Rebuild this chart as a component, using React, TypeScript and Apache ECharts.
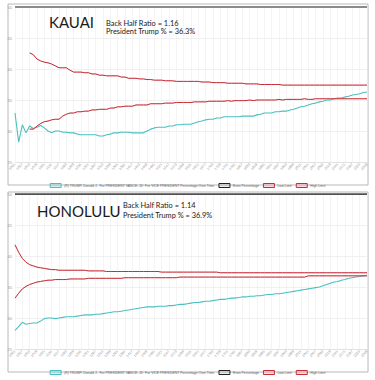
import React, { useEffect, useRef } from "react";
import * as echarts from "echarts";

const CATEGORIES: string[] = Array.from({ length: 97 }, (_, i) => String(1001 + i * 13));
const EVEN = 50;

const TRUMP_NAME = "(R) TRUMP, Donald J.  For PRESIDENT VANCE, JD  For VICE PRESIDENT Percentage Over Time";
const EVEN_NAME = "Even Percentage";
const LOW_NAME = "Low Limit";
const HIGH_NAME = "High Limit";

const kauaiTrump = [
  32.9, 28.2, 31.0, 29.7, 30.8, 30.4, 30.6, 30.9, 30.5, 30.0,
  29.7, 30.0, 30.0, 29.8, 29.8, 29.7, 29.7, 29.5, 29.4, 29.4,
  29.4, 29.4, 29.4, 29.2, 29.2, 29.4, 29.5, 29.7, 29.7, 29.8,
  29.8, 29.8, 29.7, 29.7, 29.7, 29.7, 30.0, 30.3, 30.5, 30.6,
  30.6, 30.6, 30.8, 30.8, 31.0, 31.0, 31.1, 31.1, 31.1, 31.3,
  31.5, 31.6, 31.8, 31.9, 31.9, 32.1, 32.1, 32.3, 32.3, 32.3,
  32.3, 32.3, 32.4, 32.4, 32.4, 32.4, 32.6, 32.7, 32.9, 32.9,
  32.9, 33.1, 33.1, 33.2, 33.2, 33.4, 33.5, 33.7, 33.9, 34.0,
  34.2, 34.4, 34.5, 34.7, 34.8, 35.0, 35.0, 35.2, 35.3, 35.3,
  35.5, 35.6, 35.8, 35.9, 36.0, 36.2, 36.3,
];
const kauaiLow = [
  null, null, null, null, 30.3, 30.3, 30.8, 31.2, 31.5, 31.6,
  31.8, 31.9, 31.9, 32.4, 32.7, 32.9, 32.9, 33.1, 33.1, 33.2,
  33.2, 33.4, 33.4, 33.5, 33.5, 33.5, 33.7, 33.7, 33.9, 33.9,
  34.0, 34.0, 34.0, 34.2, 34.2, 34.2, 34.2, 34.4, 34.4, 34.4,
  34.4, 34.5, 34.5, 34.5, 34.6, 34.6, 34.6, 34.6, 34.6, 34.7,
  34.7, 34.7, 34.7, 34.8, 34.8, 34.8, 34.8, 34.8, 34.9, 34.8,
  34.9, 34.9, 34.9, 34.9, 35.0, 34.9, 35.0, 35.0, 35.0, 35.0,
  35.0, 35.0, 35.1, 35.0, 35.1, 35.1, 35.1, 35.1, 35.1, 35.2,
  35.1, 35.1, 35.2, 35.2, 35.2, 35.2, 35.2, 35.2, 35.2, 35.2,
  35.2, 35.2, 35.2, 35.2, 35.2, 35.2, 35.2,
];
const kauaiHigh = [
  null, null, null, null, 42.6, 42.3, 41.6, 41.3, 41.1, 41.0,
  40.8, 40.5, 40.2, 40.2, 40.2, 39.8, 39.5, 39.5, 39.5, 39.4,
  39.4, 39.2, 39.2, 39.0, 39.0, 38.9, 38.9, 38.9, 38.9, 38.7,
  38.7, 38.5, 38.5, 38.5, 38.4, 38.4, 38.3, 38.3, 38.2, 38.2,
  38.2, 38.1, 38.1, 38.1, 38.0, 38.0, 38.0, 38.0, 38.0, 38.0,
  38.0, 37.9, 37.9, 37.9, 37.8, 37.8, 37.8, 37.8, 37.7, 37.7,
  37.7, 37.7, 37.7, 37.6, 37.6, 37.6, 37.6, 37.5, 37.5, 37.5,
  37.5, 37.5, 37.5, 37.4, 37.4, 37.4, 37.4, 37.4, 37.4, 37.4,
  37.4, 37.4, 37.4, 37.4, 37.4, 37.4, 37.4, 37.4, 37.4, 37.4,
  37.4, 37.4, 37.4, 37.4, 37.4, 37.4, 37.4,
];

const honoluluTrump = [
  28.0, 28.6, 29.3, 29.0, 29.1, 29.2, 29.2, 29.5, 29.9, 30.0,
  30.0, 29.9, 30.0, 30.1, 30.2, 30.2, 30.2, 30.3, 30.4, 30.5,
  30.5, 30.5, 30.6, 30.6, 30.7, 30.8, 30.9, 31.0, 31.0, 31.1,
  31.2, 31.3, 31.4, 31.5, 31.6, 31.7, 31.8, 31.8, 31.8, 31.9,
  31.9, 31.9, 32.0, 32.0, 32.1, 32.2, 32.2, 32.3, 32.4, 32.5,
  32.5, 32.6, 32.7, 32.7, 32.8, 32.9, 33.0, 33.0, 33.1, 33.2,
  33.2, 33.3, 33.4, 33.4, 33.5, 33.5, 33.6, 33.6, 33.7, 33.8,
  33.8, 33.9, 33.9, 34.0, 34.1, 34.2, 34.3, 34.4, 34.5, 34.6,
  34.7, 34.8, 34.9, 35.0, 35.2, 35.4, 35.6, 35.8, 35.9, 36.1,
  36.2, 36.4, 36.5, 36.6, 36.7, 36.8, 36.9,
];
const honoluluLow = [
  33.2, 34.0, 34.7, 35.1, 35.4, 35.6, 35.8, 35.9, 36.0, 36.1,
  36.1, 36.2, 36.2, 36.2, 36.2, 36.3, 36.3, 36.3, 36.3, 36.3,
  36.4, 36.4, 36.4, 36.4, 36.4, 36.4, 36.4, 36.4, 36.4, 36.4,
  36.5, 36.5, 36.5, 36.5, 36.5, 36.5, 36.5, 36.5, 36.5, 36.5,
  36.5, 36.5, 36.5, 36.5, 36.5, 36.6, 36.6, 36.6, 36.6, 36.6,
  36.6, 36.6, 36.6, 36.6, 36.6, 36.6, 36.6, 36.6, 36.6, 36.6,
  36.6, 36.6, 36.6, 36.6, 36.6, 36.6, 36.6, 36.6, 36.6, 36.6,
  36.6, 36.6, 36.6, 36.6, 36.6, 36.6, 36.6, 36.6, 36.6, 36.6,
  36.8, 36.8, 36.8, 36.8, 36.8, 36.8, 36.8, 36.8, 36.8, 36.8,
  36.8, 36.8, 36.8, 36.8, 36.8, 36.8, 36.8,
];
const honoluluHigh = [
  41.8, 40.6, 39.6, 39.0, 38.6, 38.4, 38.2, 38.1, 38.0, 37.9,
  37.8, 37.8, 37.7, 37.7, 37.7, 37.7, 37.7, 37.7, 37.7, 37.7,
  37.6, 37.6, 37.6, 37.6, 37.6, 37.5, 37.5, 37.5, 37.5, 37.5,
  37.5, 37.5, 37.5, 37.5, 37.5, 37.5, 37.5, 37.5, 37.5, 37.5,
  37.4, 37.4, 37.4, 37.4, 37.4, 37.4, 37.4, 37.4, 37.4, 37.4,
  37.4, 37.4, 37.4, 37.4, 37.4, 37.4, 37.3, 37.3, 37.3, 37.3,
  37.3, 37.3, 37.3, 37.3, 37.3, 37.3, 37.3, 37.3, 37.3, 37.3,
  37.3, 37.3, 37.3, 37.3, 37.3, 37.3, 37.3, 37.3, 37.3, 37.3,
  37.3, 37.3, 37.3, 37.3, 37.3, 37.3, 37.3, 37.3, 37.3, 37.3,
  37.3, 37.3, 37.3, 37.3, 37.3, 37.3, 37.3,
];

const Y_TICKS = { min: 25, max: 50, interval: 5 };

const KAUAI_TITLE = "KAUAI";
const KAUAI_RATIO = "Back Half Ratio = 1.16";
const KAUAI_PCT = "President Trump % = 36.3%";
const HONOLULU_TITLE = "HONOLULU";
const HONOLULU_RATIO = "Back Half Ratio = 1.14";
const HONOLULU_PCT = "President Trump % = 36.9%";

const TEAL = "rgb(75,192,192)";
const RED = "#c42f38";

export default function App() {
  const ref = useRef<HTMLDivElement>(null);
  useEffect(() => {
    if (!ref.current) return;
    const chart = echarts.init(ref.current, undefined, { renderer: "svg" });
    const grids = [
      { left: 15, top: 7, width: 352, height: 155 },
      { left: 15, top: 194, width: 352, height: 155 },
    ];
    const xAxis = grids.map((_, gi) => ({
      type: "category",
      gridIndex: gi,
      data: CATEGORIES,
      boundaryGap: false,
      axisLine: { lineStyle: { color: "#d8d8d8", width: 0.6 } },
      axisTick: { show: false },
      axisLabel: { interval: 1, rotate: 45, fontSize: 3.5, color: "#999", margin: 2, fontFamily: "Liberation Sans" },
      splitLine: { show: true, interval: 1, lineStyle: { color: "#ececec", width: 0.6 } },
    }));
    const yAxis = grids.map((_, gi) => ({
      type: "value",
      gridIndex: gi,
      ...Y_TICKS,
      axisLine: { show: false },
      axisTick: { show: false },
      axisLabel: { fontSize: 4, color: "#999", margin: 3, fontFamily: "Liberation Sans" },
      splitLine: { lineStyle: { color: "#e6e6e6", width: 0.6 } },
    }));
    const evenData = CATEGORIES.map(() => EVEN);
    const redStyle = { color: RED, width: 1, shadowColor: "rgba(240,120,130,0.6)", shadowBlur: 1.5 };
    const mk = (gi: number, trump: number[], low: (number | null)[], high: (number | null)[], evenColor: string, evenWidth: number) => [
      { name: TRUMP_NAME, type: "line", xAxisIndex: gi, yAxisIndex: gi, data: trump, showSymbol: false, lineStyle: { color: TEAL, width: 1.1 }, itemStyle: { color: TEAL }, z: 3 },
      { name: EVEN_NAME, type: "line", xAxisIndex: gi, yAxisIndex: gi, data: evenData, showSymbol: false, lineStyle: { color: evenColor, width: evenWidth }, itemStyle: { color: evenColor }, z: 2 },
      { name: LOW_NAME, type: "line", xAxisIndex: gi, yAxisIndex: gi, data: low, showSymbol: false, lineStyle: redStyle, itemStyle: { color: RED }, z: 4 },
      { name: HIGH_NAME, type: "line", xAxisIndex: gi, yAxisIndex: gi, data: high, showSymbol: false, lineStyle: redStyle, itemStyle: { color: RED }, z: 4 },
    ];
    const legendData = [
      { name: TRUMP_NAME, itemStyle: { color: "rgba(75,192,192,0.25)", borderColor: TEAL, borderWidth: 1 } },
      { name: EVEN_NAME, itemStyle: { color: "rgba(0,0,0,0.08)", borderColor: "#222", borderWidth: 1 } },
      { name: LOW_NAME, itemStyle: { color: "rgba(255,99,132,0.25)", borderColor: RED, borderWidth: 1 } },
      { name: HIGH_NAME, itemStyle: { color: "rgba(255,99,132,0.25)", borderColor: RED, borderWidth: 1 } },
    ];
    const legendBase = {
      left: "center",
      icon: "rect",
      itemWidth: 11,
      itemHeight: 4,
      itemGap: 4,
      selectedMode: false,
      textStyle: { fontSize: 3.4, color: "#666", padding: [0, 0, 0, -2], fontFamily: "Liberation Sans" },
      data: legendData,
    };
    const text = (t: string, x: number, y: number, size: number) => ({
      type: "text",
      x,
      y,
      style: { text: t, fontSize: size, fontFamily: "Lato", fill: "#1a1a1a", verticalAlign: "middle", align: "left" },
      z: 10,
    });
    chart.setOption({
      animation: false,
      grid: grids,
      xAxis,
      yAxis,
      legend: [
        { ...legendBase, top: 178 },
        { ...legendBase, top: 365 },
      ],
      series: [
        ...mk(0, kauaiTrump, kauaiLow, kauaiHigh, "#8a8a8a", 2),
        ...mk(1, honoluluTrump, honoluluLow, honoluluHigh, "#1a1a1a", 1.6),
      ],
      graphic: [
        { type: "rect", shape: { x: 8, y: 4, width: 360, height: 181 }, style: { fill: "none", stroke: "#b8b8b8", lineWidth: 1 }, z: 0 },
        { type: "rect", shape: { x: 8, y: 192, width: 360, height: 180 }, style: { fill: "none", stroke: "#b8b8b8", lineWidth: 1 }, z: 0 },
        text(KAUAI_TITLE, 49, 22, 15),
        text(KAUAI_RATIO, 106, 23, 7.4),
        text(KAUAI_PCT, 106, 31, 7.4),
        text(HONOLULU_TITLE, 37, 211, 15),
        text(HONOLULU_RATIO, 123, 205.5, 7.4),
        text(HONOLULU_PCT, 123, 215.5, 7.4),
      ],
    });
    return () => chart.dispose();
  }, []);
  return <div ref={ref} style={{ position: "absolute", left: 0, top: 0, width: 375, height: 380 }} />;
}
